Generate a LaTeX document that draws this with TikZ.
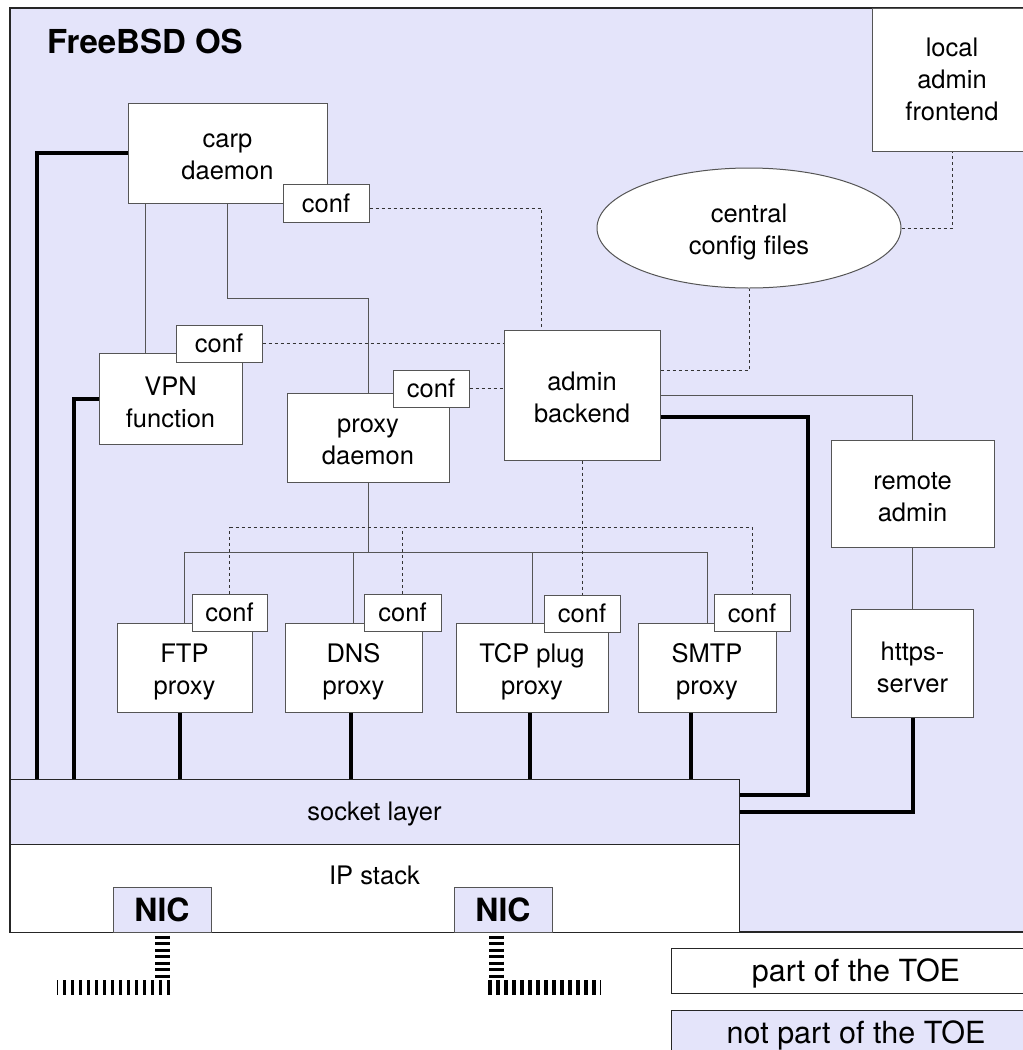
\documentclass[tikz,border=0pt]{standalone}
\usepackage{fontspec}
\setmainfont{TeX Gyre Heros}
\usetikzlibrary{shapes.geometric}

\definecolor{lavanda}{RGB}{228,228,250}
\definecolor{borde}{RGB}{85,85,85}
\newcommand{\cuerpo}{\fontsize{25.5}{32}\selectfont}

\tikzset{
  caja/.style={draw=borde, line width=1pt, fill=white, inner sep=0pt, align=center, font=\cuerpo},
  texto/.style={align=center, font=\cuerpo, inner sep=0pt, yshift=-4pt},
  cajaconf/.style={caja, minimum width=76pt, minimum height=37pt, text depth=0pt},
  fino/.style={draw=borde, line width=1pt},
  punteado/.style={draw=black!80, line width=0.9pt, dash pattern=on 3pt off 3pt},
  grueso/.style={draw=black, line width=4pt},
  cablev/.style={draw=black, line width=15pt, dash pattern=on 3pt off 3.5pt},
  cableh/.style={draw=black, line width=15pt, dash pattern=on 3.5pt off 4.5pt},
}

\begin{document}
\begin{tikzpicture}[x=1pt, y=-1pt]
  \clip (0,0) rectangle (1023,1050);

  % Marco del sistema operativo
  \node[caja, fill=lavanda, draw=black!85, line width=1.2pt, minimum width=1030pt, minimum height=924pt] (os) at (525,470) {};
  \node[anchor=base west, inner sep=0pt, font=\fontsize{33}{39}\selectfont\bfseries] (titulo) at (47,53) {FreeBSD OS};

  % Cajas principales
  \node[caja, minimum width=160pt, minimum height=143pt, label={[texto, yshift=4pt]center:{local\\admin\\frontend}}] (local) at (952,79.5) {};
  \node[caja, ellipse, minimum width=304pt, minimum height=120pt, label={[texto]center:{central\\config files}}] (ccf) at (749,228) {};
  \node[caja, minimum width=199pt, minimum height=100pt, label={[texto]center:{carp\\daemon}}] (carp) at (227.5,153) {};
  \node[caja, minimum width=143pt, minimum height=91pt, label={[texto]center:{VPN\\function}}] (vpn) at (170.5,398.5) {};
  \node[caja, minimum width=162pt, minimum height=89pt, label={[texto]center:{proxy\\daemon}}] (proxyd) at (368,437.5) {};
  \node[caja, minimum width=156pt, minimum height=130pt, label={[texto, yshift=2pt]center:{admin\\backend}}] (admin) at (582,395) {};
  \node[caja, minimum width=163pt, minimum height=107pt, label={[texto]center:{remote\\admin}}] (remote) at (912.5,493.5) {};
  \node[caja, minimum width=122pt, minimum height=108pt, label={[texto]center:{https-\\server}}] (https) at (912.5,663) {};
  \node[caja, minimum width=135pt, minimum height=89pt, label={[texto]center:{FTP\\proxy}}] (ftp) at (184.5,667.5) {};
  \node[caja, minimum width=137pt, minimum height=89pt, label={[texto]center:{DNS\\proxy}}] (dns) at (353.5,667.5) {};
  \node[caja, minimum width=152pt, minimum height=89pt, label={[texto]center:{TCP plug\\proxy}}] (tcp) at (532,668) {};
  \node[caja, minimum width=138pt, minimum height=89pt, label={[texto]center:{SMTP\\proxy}}] (smtp) at (707,667.5) {};

  % Capas de red
  \node[caja, fill=lavanda, draw=black!85, minimum width=729pt, minimum height=65pt, text depth=0pt] (socket) at (374.5,811.5) {socket layer};
  \node[caja, draw=black!85, minimum width=729pt, minimum height=88pt] (ip) at (374.5,888) {};
  \node[anchor=base, inner sep=0pt, font=\cuerpo] (iptxt) at (374.5,884) {IP stack};
  \node[caja, fill=lavanda, font=\fontsize{32}{38}\selectfont\bfseries, minimum width=98pt, minimum height=45pt, text depth=0pt] (nicL) at (162,909.5) {NIC};
  \node[caja, fill=lavanda, font=\fontsize{32}{38}\selectfont\bfseries, minimum width=98pt, minimum height=45pt, text depth=0pt] (nicR) at (503,909.5) {NIC};

  % Cajas conf
  \node[cajaconf, minimum width=86pt, minimum height=38pt] (carpconf) at (326,203) {conf};
  \node[cajaconf, minimum width=86pt] (vpnconf) at (219,343.5) {conf};
  \node[cajaconf] (proxyconf) at (431,388.5) {conf};
  \node[cajaconf, minimum width=75pt] (ftpconf) at (229.5,612.5) {conf};
  \node[cajaconf, minimum width=77pt] (dnsconf) at (402.5,612.5) {conf};
  \node[cajaconf] (tcpconf) at (582,613.5) {conf};
  \node[cajaconf] (smtpconf) at (752,613) {conf};

  % Leyenda
  \node[caja, draw=black!85, font=\fontsize{30.5}{36}\selectfont, minimum width=370pt, minimum height=45pt, text depth=0pt] (toe) at (856,970.5) {part of the TOE};
  \node[caja, draw=black!85, fill=lavanda, font=\fontsize{30.5}{36}\selectfont, minimum width=370pt, minimum height=45pt, text depth=0pt] (notoe) at (856,1032.5) {not part of the TOE};

  % Conexiones finas
  \draw[fino] ([xshift=18pt]carp.south west) -- ([xshift=47pt]vpn.north west);
  \draw[fino] (carp.south) -- ++(0,95) -| (proxyd.north);
  \path (proxyd.south) ++(0,70) coordinate (bus);
  \draw[fino] (proxyd.south) -- (bus);
  \draw[fino] (ftp.north) |- (bus) -| (smtp.north);
  \draw[fino] (dns.north) -- (dns.north |- bus);
  \draw[fino] (tcp.north) -- (tcp.north |- bus);
  \draw[fino] (admin.east) -| (remote.north);
  \draw[fino] (remote.south) -- (https.north);

  % Conexiones de configuracion
  \draw[punteado] ([yshift=-5pt]carpconf.east) -| ([xshift=38pt]admin.north west);
  \draw[punteado] (vpnconf.east) -- (vpnconf.east -| admin.west);
  \draw[punteado] (proxyconf.east) -- (proxyconf.east -| admin.west);
  \draw[punteado] ([yshift=25pt]admin.east) -| (ccf.south);
  \draw[punteado] (ccf.east) -| (local.south);
  \path (admin.south) ++(0,67) coordinate (dbus);
  \draw[punteado] (admin.south) -- (tcpconf.north);
  \draw[punteado] (ftpconf.north) |- (dbus) -| (smtpconf.north);
  \draw[punteado] (dnsconf.north) -- (dnsconf.north |- dbus);

  % Conexiones al socket layer
  \draw[grueso] (carp.west) -| ([xshift=27pt]socket.north west);
  \draw[grueso] (vpn.west) -| ([xshift=64pt]socket.north west);
  \foreach \n/\d in {ftp/-5, dns/-3, tcp/-2, smtp/-16}
    \draw[grueso] ([xshift=\d pt]\n.south) -- ([xshift=\d pt]\n.south |- socket.north);
  \draw[grueso] ([yshift=-22pt]admin.east) -| ([xshift=68pt,yshift=-16pt]socket.north east) -- ([yshift=-16pt]socket.north east);
  \draw[grueso] (https.south) |- (socket.east);

  % Cables de red
  \coordinate (cL) at (162,980);
  \coordinate (cLfin) at (57,987.5);
  \coordinate (cR) at (496,980);
  \coordinate (cRfin) at (601,987.5);
  \draw[cablev] ([yshift=-3pt]nicL.south) -- (cL);
  \draw[cableh] ([xshift=8pt,yshift=-7.5pt]cL) -- (cLfin);
  \draw[cablev] ([xshift=-7pt,yshift=-3pt]nicR.south) -- (cR);
  \draw[cableh] ([xshift=-8pt,yshift=-7.5pt]cR) -- (cRfin);
\end{tikzpicture}
\end{document}
